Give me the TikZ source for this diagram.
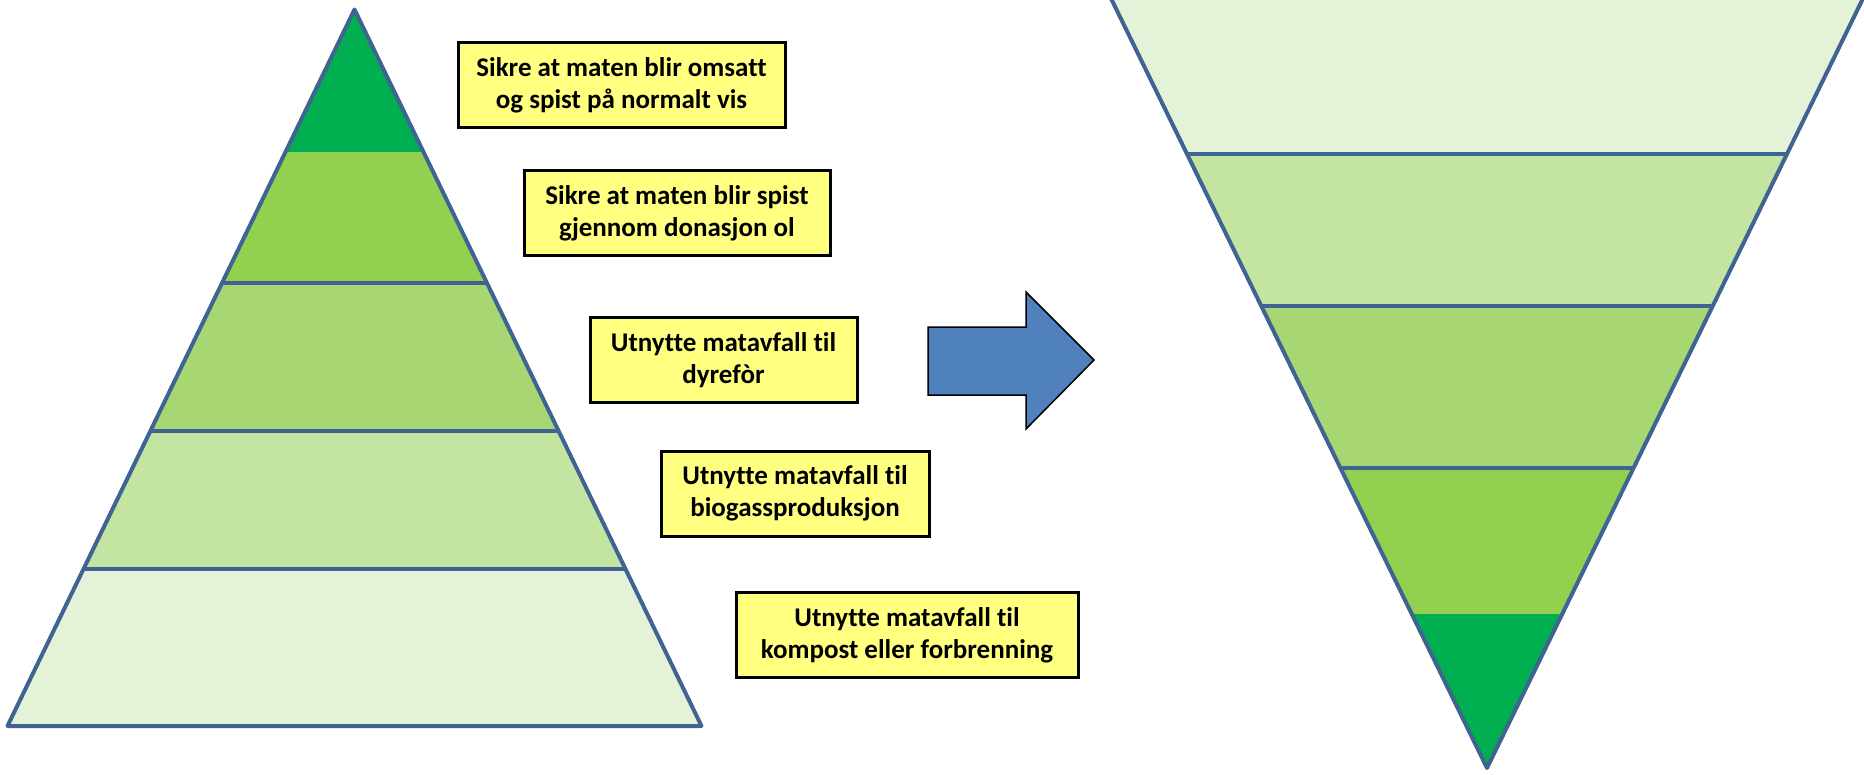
\documentclass[tikz,border=0pt]{standalone}
\usepackage{fontspec}
\setmainfont{Carlito}[Ligatures={NoCommon}]
\definecolor{edgeblue}{HTML}{3F6393}
\definecolor{arrowblue}{HTML}{4F81BD}
\definecolor{boxyellow}{HTML}{FFFF80}
\definecolor{greenA}{HTML}{00B050}
\definecolor{greenB}{HTML}{92D050}
\definecolor{greenC}{HTML}{A8D672}
\definecolor{greenD}{HTML}{C4E4A2}
\definecolor{greenE}{HTML}{E4F3D8}
\tikzset{
    edge/.style={draw=edgeblue, line width=4pt},
    labelbox/.style={draw=black, line width=3pt, fill=boxyellow, align=center,
        inner sep=0pt, minimum height=85pt,
        font=\bfseries\fontsize{27}{32}\selectfont}
}
\begin{document}
\begin{tikzpicture}[x=1pt, y=-1pt]
    \useasboundingbox (0,0) rectangle (1864,774);
    \clip (0,0) rectangle (1864,774);

    % Pyramid
    \coordinate (ltop) at (354.5,9.5);
    \coordinate (lleft) at (7.5,726);
    \coordinate (lright) at (701.5,726);
    \begin{scope}
        \clip (ltop) -- (lright) -- (lleft) -- cycle;
        \foreach \ya/\yb/\col in {0/152/greenA, 152/283/greenB, 283/431/greenC, 431/569/greenD, 569/730/greenE} {
            \fill[\col] (0,\ya) rectangle (720,\yb);
        }
        \foreach \y in {283,431,569} {
            \draw[edge] (0,\y) -- (720,\y);
        }
    \end{scope}
    \draw[edge, line join=round] (ltop) -- (lright) -- (lleft) -- cycle;

    % Steps
    \node[labelbox, minimum width=327pt] (omsatt) at (621.5,85) {Sikre at maten blir omsatt\\og spist på normalt vis};
    \node[labelbox, minimum width=306pt] (donasjon) at (677,213) {Sikre at maten blir spist\\gjennom donasjon ol};
    \node[labelbox, minimum width=267pt] (dyrefor) at (723.5,360) {Utnytte matavfall til\\dyrefòr};
    \node[labelbox, minimum width=268pt] (biogass) at (795,493.5) {Utnytte matavfall til\\biogassproduksjon};
    \node[labelbox, minimum width=342pt] (kompost) at (907,635) {Utnytte matavfall til\\kompost eller forbrenning};

    % Arrow
    \draw[fill=arrowblue, draw=black, line width=1.5pt] (928,327) -- (1026,327) -- (1026,292) -- (1094,360)
        -- (1026,429) -- (1026,395) -- (928,395) -- cycle;

    % Inverted pyramid
    \coordinate (rtip) at (1487,768);
    \coordinate (rleft) at (1102,-20);
    \coordinate (rright) at (1872,-20);
    \begin{scope}
        \clip (rleft) -- (rright) -- (rtip) -- cycle;
        \foreach \ya/\yb/\col in {-20/154/greenE, 154/306/greenD, 306/468/greenC, 468/613.5/greenB, 613.5/780/greenA} {
            \fill[\col] (1090,\ya) rectangle (1880,\yb);
        }
        \foreach \y in {154,306,468} {
            \draw[edge] (1090,\y) -- (1880,\y);
        }
    \end{scope}
    \draw[edge, line join=round] (rleft) -- (rtip) -- (rright);
\end{tikzpicture}
\end{document}
